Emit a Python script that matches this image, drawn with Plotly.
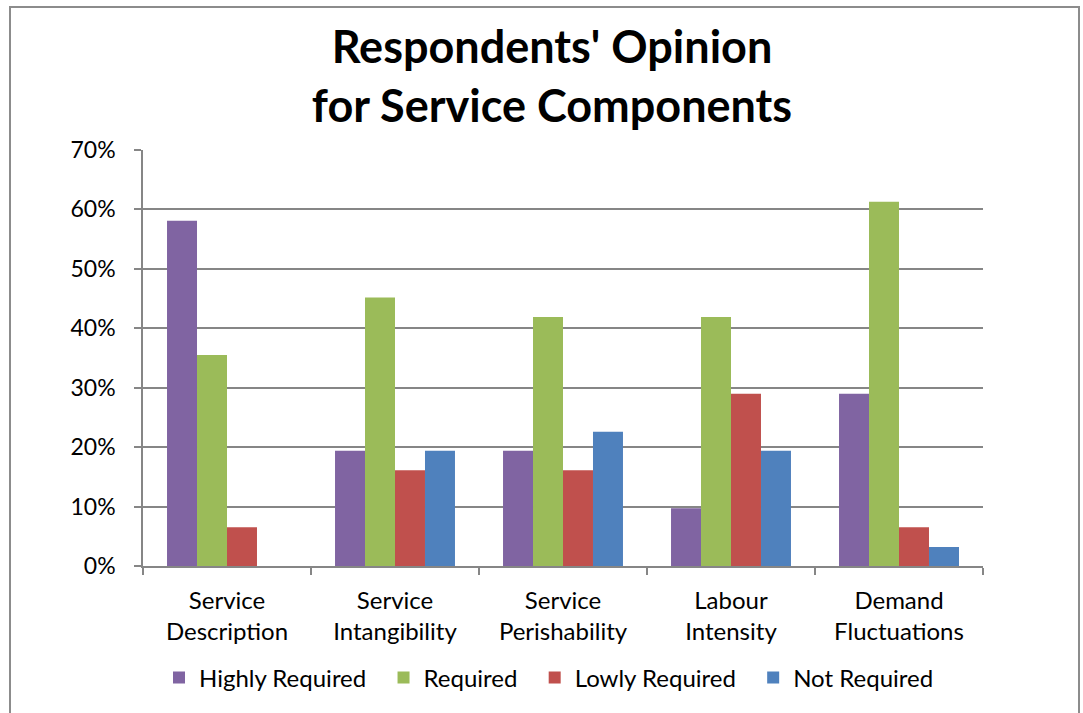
import plotly.graph_objects as go

categories = ["Service<br>Description", "Service<br>Intangibility", "Service<br>Perishability",
              "Labour<br>Intensity", "Demand<br>Fluctuations"]
highly_required = [0.581, 0.194, 0.194, 0.097, 0.290]
required = [0.355, 0.452, 0.419, 0.419, 0.613]
lowly_required = [0.065, 0.161, 0.161, 0.290, 0.065]
not_required = [0.0, 0.194, 0.226, 0.194, 0.032]
y_ticks = [0, 0.1, 0.2, 0.3, 0.4, 0.5, 0.6, 0.7]

series = [
    ("Highly Required", highly_required, "#8064A2"),
    ("Required", required, "#9BBB59"),
    ("Lowly Required", lowly_required, "#C0504D"),
    ("Not Required", not_required, "#4F81BD"),
]

FONT = "Lato, Open Sans, sans-serif"

fig = go.Figure()
for i, (name, vals, color) in enumerate(series):
    label = name + ("\u00a0\u00a0" if i < len(series) - 1 else "")
    fig.add_trace(go.Bar(x=categories, y=vals, name=label,
                         marker=dict(color=color, line=dict(width=0))))

L, R, T, B = 143, 983, 150, 566
W, H = 1083, 713
pw, ph = R - L, B - T

def px(x):
    return (x - L) / pw

def py(y):
    return (B - y) / ph

fig.update_layout(
    width=W, height=H,
    margin=dict(l=L, r=W - R, t=T, b=H - B),
    paper_bgcolor="white", plot_bgcolor="white",
    barmode="group", bargap=0.286, bargroupgap=0,
    font=dict(family=FONT, size=24, color="black"),
    title=dict(text="<b>Respondents' Opinion<br>for Service Components</b>",
               x=552 / W, xanchor="center", y=1 - 63 / H, yanchor="middle",
               font=dict(family=FONT, size=45, color="black")),
    legend=dict(orientation="h", x=px(549), xanchor="center", y=py(678), yanchor="middle",
                font=dict(size=24), itemwidth=30, traceorder="normal"),
    showlegend=True,
    shapes=[dict(type="rect", xref="paper", yref="paper",
                 x0=px(10), x1=px(1079), y0=py(730), y1=py(7),
                 line=dict(color="#8c8c8c", width=2), fillcolor="rgba(0,0,0,0)", layer="below")],
)
fig.update_yaxes(range=[0, 0.7], tickvals=y_ticks, tickformat=".0%",
                 showgrid=True, gridcolor="#868686", gridwidth=1.5,
                 showline=True, linecolor="#868686", linewidth=1.5,
                 ticks="outside", ticklen=7, tickcolor="#868686", tickwidth=1.5,
                 ticklabelstandoff=14,
                 tickfont=dict(size=23), zeroline=False)
fig.update_xaxes(showline=True, linecolor="#868686", linewidth=1.5,
                 ticks="outside", tickson="boundaries", ticklen=7, tickcolor="#868686", tickwidth=1.5,
                 ticklabelstandoff=12,
                 tickfont=dict(size=24))

fig.write_html("out.html")
